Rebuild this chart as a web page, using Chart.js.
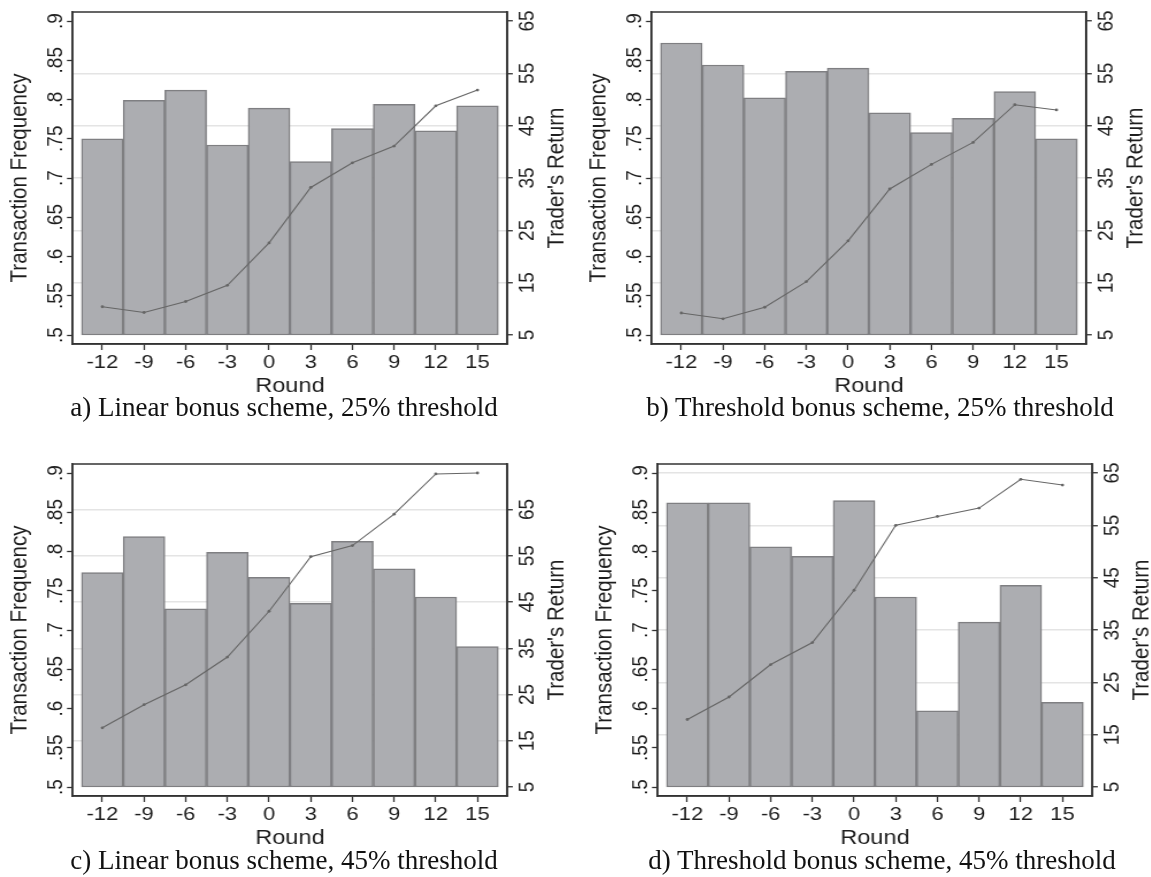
<!DOCTYPE html>
<html>
<head>
<meta charset="utf-8">
<script src="https://cdn.jsdelivr.net/npm/chart.js@4.4.1/dist/chart.umd.min.js"></script>
<style>
  body { margin: 0; background: #fff; width: 1151px; height: 877px; position: relative; overflow: hidden; }
  canvas { position: absolute; transform-origin: 0 0; }
  .cap { position: absolute; font-family: "Liberation Serif", "Times New Roman", serif; font-size: 27px; line-height: 27px; color: #111; white-space: nowrap; transform: translateX(-50%); }
</style>
</head>
<body>
<canvas id="ca"></canvas>
<canvas id="cb"></canvas>
<canvas id="cc"></canvas>
<canvas id="cd"></canvas>
<div class="cap" style="left:284px;top:394px">a) Linear bonus scheme, 25% threshold</div>
<div class="cap" style="left:880px;top:394px">b) Threshold bonus scheme, 25% threshold</div>
<div class="cap" style="left:284px;top:847px">c) Linear bonus scheme, 45% threshold</div>
<div class="cap" style="left:882px;top:847px">d) Threshold bonus scheme, 45% threshold</div>
<script>
//Data
const rounds = [-12, -9, -6, -3, 0, 3, 6, 9, 12, 15];

const freqLinear25 = [0.750, 0.799, 0.812, 0.742, 0.789, 0.721, 0.763, 0.794, 0.760, 0.792];
const returnLinear25 = [10.4, 9.3, 11.4, 14.5, 22.6, 33.2, 37.9, 41.1, 48.8, 51.8];

const freqThreshold25 = [0.872, 0.844, 0.802, 0.836, 0.840, 0.783, 0.758, 0.776, 0.810, 0.750];
const returnThreshold25 = [9.2, 8.1, 10.3, 15.2, 23.0, 32.9, 37.6, 41.8, 49.0, 48.0];

const freqLinear45 = [0.773, 0.819, 0.727, 0.799, 0.767, 0.734, 0.813, 0.778, 0.742, 0.679];
const returnLinear45 = [17.8, 22.8, 27.1, 33.1, 43.0, 54.8, 57.2, 64.0, 72.7, 72.9];

const freqThreshold45 = [0.862, 0.862, 0.806, 0.794, 0.865, 0.742, 0.597, 0.710, 0.757, 0.608];
const returnThreshold45 = [17.9, 22.2, 28.4, 32.6, 42.6, 55.0, 56.7, 58.3, 63.8, 62.7];

const freqTicks = [0.5, 0.55, 0.6, 0.65, 0.7, 0.75, 0.8, 0.85, 0.9];
const freqTickLabels = [".5", ".55", ".6", ".65", ".7", ".75", ".8", ".85", ".9"];
const returnTicks = [5, 15, 25, 35, 45, 55, 65];

//Layout (the original graphs are stretched sideways)
const K = 1.15;
const FRAME_L = 72.5, FRAME_R = 507.3, FRAME_T = 12, FRAME_B = 344;
const INSET = 9;
const FONT = '"Liberation Sans", Arial, sans-serif';
const INK = "#1e1e1e";
const TICK_SIZE = 19;
const TITLE_SIZE = 20.5;

//pad a value range so the data sits INSET px inside the frame
const padRange = (lo, hi, span) => {
  let per = (span - 2 * INSET) / (hi - lo);
  return { min: lo - INSET / per, max: hi + INSET / per };
};

//rotated y tick labels, axis titles and the plot frame
const stataAxes = {
  id: "stataAxes",
  afterDraw: (chart) => {
    let { ctx, chartArea, scales } = chart;
    ctx.save();
    ctx.strokeStyle = "#333";
    ctx.lineWidth = 1.5;
    ctx.strokeRect(chartArea.left, chartArea.top, chartArea.right - chartArea.left, chartArea.bottom - chartArea.top);

    const rotText = (text, x, y, size) => {
      ctx.save();
      ctx.translate(x, y);
      ctx.rotate(-Math.PI / 2);
      ctx.font = size + "px " + FONT;
      ctx.fillStyle = INK;
      ctx.textAlign = "center";
      ctx.textBaseline = "alphabetic";
      ctx.fillText(text, 0, 0);
      ctx.restore();
    };
    freqTicks.forEach((v, i) => {
      rotText(freqTickLabels[i], chartArea.left - 10 / K, scales.yL.getPixelForValue(v), TICK_SIZE);
    });
    returnTicks.forEach((v) => {
      rotText(String(v), chartArea.right + 26 / K, scales.yR.getPixelForValue(v), TICK_SIZE);
    });
    let midY = (scales.yL.getPixelForValue(0.5) + scales.yL.getPixelForValue(0.9)) / 2;
    rotText("Transaction Frequency", chartArea.left - 46 / K, midY, TITLE_SIZE);
    rotText("Trader's Return", chartArea.right + 56 / K, midY, TITLE_SIZE);
    ctx.restore();
  },
};

//Function
const createPanel = (id, left, top, width, height, freq, ret, topGrid) => {
  let canvas = document.getElementById(id);
  let w = Math.round(width / K);
  canvas.width = w;
  canvas.height = height;
  canvas.style.left = left + "px";
  canvas.style.top = top + "px";
  canvas.style.width = w + "px";
  canvas.style.height = height + "px";
  canvas.style.transform = "scaleX(" + K + ")";

  let span = FRAME_B - FRAME_T;
  let yL = padRange(0.5, 0.9, span);
  let yR = padRange(5, Math.max(65, ...ret), span);
  let xR = padRange(rounds[0] - 1.5, rounds[rounds.length - 1] + 1.5, FRAME_R - FRAME_L);
  let gridVals = topGrid ? [15, 25, 35, 45, 55, 65] : [15, 25, 35, 45, 55];

  let data = {
    datasets: [
      {
        type: "line",
        label: "Trader's Return",
        data: rounds.map((r, i) => ({ x: r, y: ret[i] })),
        yAxisID: "yR",
        borderColor: "#666666",
        borderWidth: 1.1,
        pointRadius: 1.4,
        pointBackgroundColor: "#666666",
        pointBorderWidth: 0,
        order: 1,
      },
      {
        type: "bar",
        label: "Transaction Frequency",
        data: rounds.map((r, i) => ({ x: r, y: [0.5, freq[i]] })),
        yAxisID: "yL",
        backgroundColor: "#acadb1",
        borderColor: "#7f7f82",
        borderWidth: 1.5,
        borderSkipped: false,
        barPercentage: 1,
        categoryPercentage: 1,
        order: 2,
      },
    ],
  };

  let xScaleConfig = {
    type: "linear",
    min: xR.min,
    max: xR.max,
    offset: false,
    afterBuildTicks: (s) => { s.ticks = rounds.map((v) => ({ value: v })); },
    afterFit: (s) => { s.height = 60; },
    ticks: { callback: (v) => String(v), font: { size: TICK_SIZE, family: FONT }, color: INK, padding: 1, maxRotation: 0, autoSkip: false },
    grid: { offset: false, drawOnChartArea: false, tickLength: 6, tickColor: "#333", tickWidth: 1.3 },
    border: { color: "#333", width: 1.5 },
    title: { display: true, text: "Round", font: { size: TITLE_SIZE, family: FONT }, color: INK, padding: { top: 0, bottom: 5 } },
  };

  let yLConfig = {
    type: "linear",
    position: "left",
    min: yL.min,
    max: yL.max,
    afterBuildTicks: (s) => { s.ticks = freqTicks.map((v) => ({ value: v })); },
    afterFit: (s) => { s.width = FRAME_L / K; },
    ticks: { display: false },
    grid: { drawOnChartArea: false, tickLength: 5.5 / K, tickColor: "#333", tickWidth: 1.3 },
    border: { color: "#333", width: 1.5 },
  };

  let yRConfig = {
    type: "linear",
    position: "right",
    min: yR.min,
    max: yR.max,
    afterBuildTicks: (s) => { s.ticks = returnTicks.map((v) => ({ value: v })); },
    afterFit: (s) => { s.width = w - FRAME_R / K; },
    ticks: { display: false },
    grid: {
      drawOnChartArea: true,
      color: (c) => (c.tick && gridVals.includes(c.tick.value) ? "#e4e4e4" : "rgba(0,0,0,0)"),
      lineWidth: 1.5,
      tickLength: 5.5 / K,
      tickColor: "#333",
      tickWidth: 1.3,
    },
    border: { color: "#333", width: 1.5 },
  };

  let config = {
    type: "bar",
    data: data,
    options: {
      responsive: false,
      animation: false,
      devicePixelRatio: 1,
      layout: { padding: { top: FRAME_T, bottom: height - FRAME_B - 60, left: 0, right: 0 } },
      plugins: { legend: { display: false }, tooltip: { enabled: false } },
      scales: { x: xScaleConfig, yL: yLConfig, yR: yRConfig },
    },
    plugins: [stataAxes],
  };
  return new Chart(canvas, config);
};

createPanel("ca", 0, 0, 578, 452, freqLinear25, returnLinear25, false);
createPanel("cb", 578.5, 0, 572, 452, freqThreshold25, returnThreshold25, false);
createPanel("cc", 0, 452, 578, 425, freqLinear45, returnLinear45, true);
createPanel("cd", 585, 452, 566, 425, freqThreshold45, returnThreshold45, true);
</script>
</body>
</html>
